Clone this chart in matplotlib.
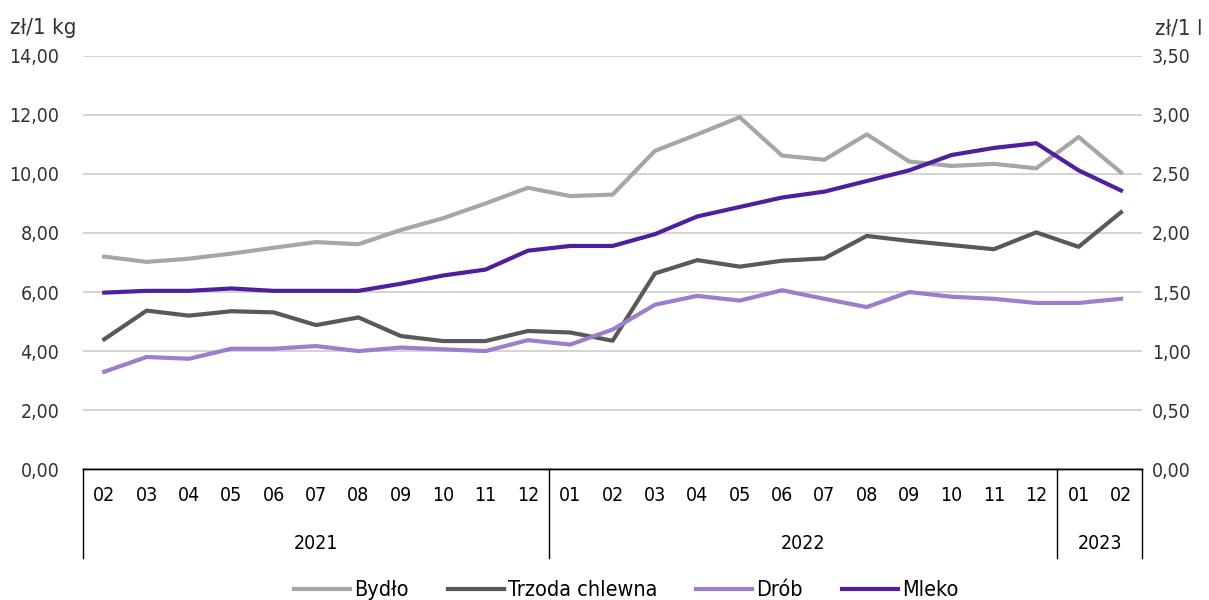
import matplotlib
matplotlib.use("Agg")
import matplotlib.pyplot as plt
from matplotlib import font_manager as fm
from matplotlib.lines import Line2D

# narrow font if there is one, otherwise Roboto
_cond = fm.findfont(fm.FontProperties(family='DejaVu Sans', stretch='condensed'))
if 'Condensed' in _cond:
    plt.rcParams['font.family'] = ['DejaVu Sans', 'DejaVu Sans']
    plt.rcParams['font.stretch'] = 'condensed'
    FS = 14
else:
    plt.rcParams['font.family'] = ['Roboto', 'DejaVu Sans']
    FS = 14.5

months = ['02', '03', '04', '05', '06', '07', '08', '09', '10', '11', '12',
          '01', '02', '03', '04', '05', '06', '07', '08', '09', '10', '11', '12',
          '01', '02']
years = ['2021', '2022', '2023']
year_counts = [11, 12, 2]

bydlo = [7.2, 7.02, 7.13, 7.3, 7.5, 7.69, 7.62, 8.1, 8.5, 9.0, 9.53, 9.25, 9.3,
         10.78, 11.34, 11.92, 10.62, 10.48, 11.34, 10.42, 10.27, 10.34, 10.19, 11.25, 10.05]
trzoda = [4.4, 5.37, 5.2, 5.35, 5.31, 4.88, 5.14, 4.51, 4.34, 4.34, 4.68, 4.63, 4.35,
          6.63, 7.08, 6.86, 7.06, 7.14, 7.9, 7.73, 7.59, 7.45, 8.02, 7.53, 8.7]
drob = [3.3, 3.8, 3.74, 4.08, 4.08, 4.17, 4.0, 4.12, 4.06, 4.0, 4.37, 4.22, 4.73,
        5.57, 5.87, 5.71, 6.06, 5.77, 5.49, 6.0, 5.84, 5.77, 5.63, 5.63, 5.77]
mleko = [1.495, 1.51, 1.51, 1.53, 1.51, 1.51, 1.51, 1.57, 1.64, 1.69, 1.85, 1.89, 1.89,
         1.99, 2.14, 2.22, 2.3, 2.35, 2.44, 2.53, 2.66, 2.72, 2.76, 2.53, 2.36]

left_ticks = [0, 2, 4, 6, 8, 10, 12, 14]
right_ticks = [0, 0.5, 1, 1.5, 2, 2.5, 3, 3.5]

c_bydlo = '#a6a6a6'
c_trzoda = '#595959'
c_drob = '#9b7fca'
c_mleko = '#4f1f9e'

fig = plt.figure(figsize=(12.09, 6.0), dpi=100)
ax = fig.add_axes([0.0687, 0.218, 0.876, 0.689])
ax2 = ax.twinx()

x = list(range(len(months)))
ax.plot(x, bydlo, color=c_bydlo, lw=3, label='Bydło', zorder=3)
ax.plot(x, trzoda, color=c_trzoda, lw=3, label='Trzoda chlewna', zorder=3)
ax.plot(x, drob, color=c_drob, lw=3, label='Drób', zorder=3)
ax2.plot(x, mleko, color=c_mleko, lw=3, label='Mleko', zorder=3)

ax.set_xlim(-0.5, len(months) - 0.5)
ax.set_ylim(0, 14)
ax2.set_ylim(0, 3.5)
ax.set_yticks(left_ticks)
ax.set_yticklabels([f'{v:.2f}'.replace('.', ',') for v in left_ticks])
ax2.set_yticks(right_ticks)
ax2.set_yticklabels([f'{v:.2f}'.replace('.', ',') for v in right_ticks])

ax.grid(axis='y', color='#d0d0d0', lw=1.3)
ax.set_axisbelow(True)
for a in (ax, ax2):
    for s in ('top', 'left', 'right'):
        a.spines[s].set_visible(False)
    a.spines['bottom'].set_color('black')
    a.spines['bottom'].set_linewidth(1.0)
    a.tick_params(length=0, labelsize=FS, colors='#333333')
ax.tick_params(axis='y', pad=17)
ax2.tick_params(axis='y', pad=7)

ax.set_xticks(x)
ax.set_xticklabels(months)
ax.tick_params(axis='x', pad=12, labelcolor='black')

# year grouping
tr = ax.get_xaxis_transform()
bounds = [-0.5]
for n in year_counts:
    bounds.append(bounds[-1] + n)
for b in bounds:
    ax.add_line(Line2D([b, b], [0, -0.215], transform=tr, color='black', lw=1.0, clip_on=False))
for i, yr in enumerate(years):
    ax.text((bounds[i] + bounds[i + 1]) / 2, -0.18, yr, transform=tr,
            ha='center', va='center', fontsize=FS)

fig.text(0.008, 0.953, 'zł/1 kg', fontsize=FS + 2, color='#333333', ha='left', va='center')
fig.text(0.995, 0.953, 'zł/1 l', fontsize=FS + 2, color='#333333', ha='right', va='center')

h1, l1 = ax.get_legend_handles_labels()
h2, l2 = ax2.get_legend_handles_labels()
fig.legend(h1 + h2, l1 + l2, loc='center', bbox_to_anchor=(0.518, 0.016), ncol=4,
           frameon=False, fontsize=FS + 1.5, handlelength=2.6, handletextpad=0.2,
           columnspacing=1.8)

fig.savefig('out.png', dpi=100)
